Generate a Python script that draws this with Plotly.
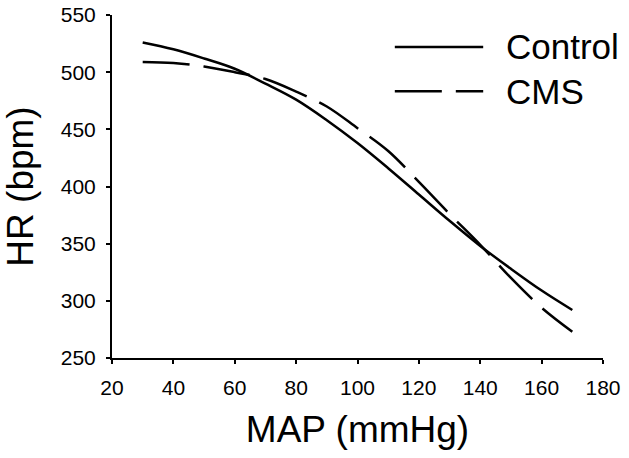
import plotly.graph_objects as go

map_vals = [30, 40, 50, 60, 70, 80, 90, 100, 110, 120, 130, 140, 150, 160, 170]
hr_control = [526, 520, 512, 503, 490, 476, 458, 438, 416, 393, 370, 348, 328, 309, 292]
hr_cms = [509, 508, 505, 500, 494, 483, 470, 451, 431, 404, 376, 349, 320, 294, 273]
series_names = ["Control", "CMS"]
x_ticks = [20, 40, 60, 80, 100, 120, 140, 160, 180]
y_ticks = [250, 300, 350, 400, 450, 500, 550]

FONT = "Arial, Liberation Sans, sans-serif"

fig = go.Figure()
fig.add_trace(go.Scatter(x=map_vals, y=hr_control, mode="lines", name=series_names[0],
                         line=dict(color="black", width=2.5, shape="spline"), showlegend=False))
fig.add_trace(go.Scatter(x=map_vals, y=hr_cms, mode="lines", name=series_names[1],
                         line=dict(color="black", width=2.5, shape="spline", dash="47px,14px"),
                         showlegend=False))

# manual legend
legend_y = [0.907, 0.778]
dashes = ["solid", "47px,14px"]
for name, ly, d in zip(series_names, legend_y, dashes):
    fig.add_shape(type="line", xref="paper", yref="paper", x0=0.576, x1=0.756, y0=ly, y1=ly,
                  line=dict(color="black", width=2.5, dash=d))
    fig.add_annotation(text=name, xref="paper", yref="paper", x=0.798, y=ly, xanchor="left",
                       yanchor="middle", showarrow=False, font=dict(family=FONT, size=35, color="black"))

fig.update_layout(
    width=629, height=458,
    margin=dict(l=112, r=26, t=15, b=100),
    plot_bgcolor="white", paper_bgcolor="white",
    font=dict(family=FONT, color="black"),
)
fig.update_xaxes(range=[20, 180], tickvals=x_ticks, ticks="outside", ticklen=4, tickwidth=1.5,
                 tickcolor="black", showline=True, linecolor="black", linewidth=2, showgrid=False,
                 zeroline=False, tickfont=dict(size=21), ticklabelstandoff=6, automargin=False,
                 ticklabeloverflow="allow",
                 title=dict(text="MAP (mmHg)", font=dict(size=37), standoff=18))
fig.update_yaxes(range=[250, 550], tickvals=y_ticks, ticks="outside", ticklen=4, tickwidth=1.5,
                 tickcolor="black", showline=True, linecolor="black", linewidth=2, showgrid=False,
                 zeroline=False, tickfont=dict(size=21), ticklabelstandoff=6, automargin=False,
                 ticklabeloverflow="allow",
                 title=dict(text="HR (bpm)", font=dict(size=37), standoff=22))

fig.write_html("out.html", config={"displayModeBar": False},
               post_script="document.body.style.margin='0';")
